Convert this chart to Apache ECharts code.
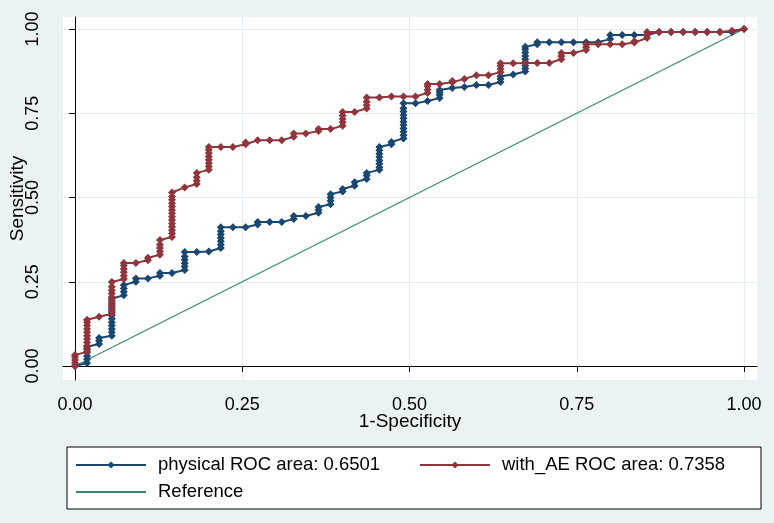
<!DOCTYPE html>
<html><head><meta charset="utf-8">
<script src="https://cdn.jsdelivr.net/npm/echarts@6/dist/echarts.min.js"></script>
<style>html,body{margin:0;padding:0;background:#eaf2f3;}#c{width:774px;height:523px;}</style>
</head><body><div id="c"></div>
<script>
// Axis ticks
const tickValues = [0, 0.25, 0.5, 0.75, 1];
const tickLabels = ['0.00', '0.25', '0.50', '0.75', '1.00'];

// 1-Specificity positions of the ROC steps
const fprSteps = [0, .018, .036, .055, .073, .091, .109, .127, .145, .164, .182, .2, .218, .236, .255, .273, .291, .309, .327, .345, .364, .382, .4, .418, .436, .455, .473, .491, .509, .527, .545, .564, .582, .6, .618, .636, .655, .673, .691, .709, .727, .745, .764, .782, .8, .818, .836, .855, .873, .891, .909, .927, .945, .964, .982, 1];

// Sensitivity values at each step (physical model)
const physicalTpr = [
  [0], [.009,.02,.03,.04,.05,.057], [.065,.075,.083], [.09,.1,.11,.12,.13,.14,.15,.16,.17,.18,.19,.2],
  [.21,.22,.23,.24], [.25,.26], [.26], [.268,.276], [.276], [.285,.295,.305,.315,.325,.338],
  [.338], [.34], [.35,.36,.37,.38,.39,.4,.412], [.412], [.412], [.42,.427], [.427], [.427],
  [.436,.445], [.445], [.455,.463,.472], [.48,.49,.5,.51], [.518,.525], [.535,.545], [.555,.565,.573],
  [.582,.59,.6,.61,.62,.63,.64,.65], [.658,.665], [.675,.685,.695,.705,.715,.725,.735,.745,.755,.765,.78],
  [.78], [.786], [.795,.805,.812,.819], [.825], [.828], [.834], [.834], [.843,.852,.86], [.865],
  [.874,.883,.892,.901,.91,.92,.93,.94,.947], [.955,.961], [.961], [.961], [.961], [.961], [.961],
  [.97,.982], [.982], [.982], [.982], [.991], [.991], [.991], [.991], [.991], [.991], [.991], [1]
];

// Sensitivity values at each step (with_AE model)
const withAETpr = [
  [0,.009,.018,.027,.033], [.042,.05,.06,.07,.08,.09,.1,.11,.12,.13,.137], [.146],
  [.155,.165,.175,.185,.195,.205,.215,.225,.235,.249], [.258,.268,.278,.288,.298,.306], [.306],
  [.314,.321], [.33,.34,.35,.36,.374], [.383,.393,.403,.413,.423,.433,.443,.453,.463,.473,.483,.493,.503,.515],
  [.53], [.54,.55,.56,.573], [.582,.592,.602,.612,.622,.632,.642,.65], [.65], [.65], [.658,.663],
  [.67], [.67], [.67], [.68,.69], [.69], [.697,.703], [.703], [.713,.723,.733,.743,.754], [.754],
  [.764,.774,.784,.797], [.797], [.8], [.8], [.8], [.81,.82,.83,.837], [.837], [.842,.846], [.852],
  [.863], [.863], [.872,.881,.89,.898], [.898], [.899], [.899], [.899], [.91,.92,.929], [.929],
  [.938,.946,.955], [.955], [.955], [.955], [.96,.964], [.973,.982,.991], [.991], [.991], [.991],
  [.991], [.991], [.991], [.995], [1]
];

// Reference diagonal
const referenceX = [0, 1];
const referenceY = [0, 1];

const seriesNames = ['physical ROC area: 0.6501', 'with_AE ROC area: 0.7358', 'Reference'];

function buildPoints(xs, stacks) {
  const pts = [];
  xs.forEach((x, i) => stacks[i].forEach(y => pts.push([x, y])));
  return pts;
}

const font = '"Liberation Sans", Arial, sans-serif';
const chart = echarts.init(document.getElementById('c'));
const labelFmt = v => { const i = tickValues.findIndex(t => Math.abs(t - v) < 1e-9); return i >= 0 ? tickLabels[i] : ''; };

chart.setOption({
  backgroundColor: '#eaf2f3',
  animation: false,
  grid: { left: 63, top: 17, width: 694, height: 363, show: true, backgroundColor: '#ffffff', borderWidth: 0, containLabel: false, outerBoundsMode: 'none' },
  xAxis: {
    type: 'value', min: -0.01794, max: 1.01943,
    name: '1-Specificity', nameLocation: 'middle', nameGap: 32, nameMoveOverlap: false,
    nameTextStyle: { fontSize: 19, fontFamily: font, color: '#000' },
    axisLine: { show: true, lineStyle: { color: '#000', width: 1 } },
    axisTick: { show: true, length: 6, customValues: tickValues, lineStyle: { color: '#000' } },
    axisLabel: { customValues: tickValues, formatter: labelFmt, margin: 16, fontSize: 18, fontFamily: font, color: '#000' },
    splitLine: { show: true, lineStyle: { color: '#e4eef2', width: 1 } }
  },
  yAxis: {
    type: 'value', min: -0.04154, max: 1.03561,
    name: 'Sensitivity', nameLocation: 'middle', nameGap: 36, nameRotate: 90, nameMoveOverlap: false,
    nameTextStyle: { fontSize: 19, fontFamily: font, color: '#000' },
    axisLine: { show: true, lineStyle: { color: '#000', width: 1 } },
    axisTick: { show: true, length: 6, customValues: tickValues, lineStyle: { color: '#000' } },
    axisLabel: { customValues: tickValues, formatter: labelFmt, rotate: 90, margin: 21, fontSize: 18, fontFamily: font, color: '#000' },
    splitLine: { show: true, lineStyle: { color: '#e4eef2', width: 1 } }
  },
  legend: {
    left: 67, top: 447, width: 700, orient: 'horizontal',
    itemWidth: 70, itemHeight: 9, itemGap: 7,
    padding: [8, 5, 7, 8],
    backgroundColor: '#ffffff', borderColor: '#000', borderWidth: 1, borderRadius: 0,
    textStyle: { fontSize: 18.5, fontFamily: font, color: '#000', width: 254, lineHeight: 20, padding: [0, 0, 0, 7] },
    data: [
      { name: seriesNames[0] },
      { name: seriesNames[1] },
      { name: seriesNames[2], icon: 'path://M0 0H70V2H0Z' }
    ]
  },
  series: [
    {
      name: seriesNames[2], type: 'line', z: 1,
      data: referenceX.map((x, i) => [x, referenceY[i]]),
      symbol: 'none', color: '#3a8a70',
      lineStyle: { color: '#3a8a70', width: 1.2 }
    },
    {
      name: seriesNames[0], type: 'line', z: 2,
      data: buildPoints(fprSteps, physicalTpr),
      symbol: 'diamond', symbolSize: [8, 8], color: '#1a476f',
      itemStyle: { color: '#1a476f' },
      lineStyle: { color: '#1a476f', width: 2 }
    },
    {
      name: seriesNames[1], type: 'line', z: 3,
      data: buildPoints(fprSteps, withAETpr),
      symbol: 'diamond', symbolSize: [8, 8], color: '#90353b',
      itemStyle: { color: '#90353b' },
      lineStyle: { color: '#90353b', width: 2 }
    }
  ]
});
</script></body></html>
